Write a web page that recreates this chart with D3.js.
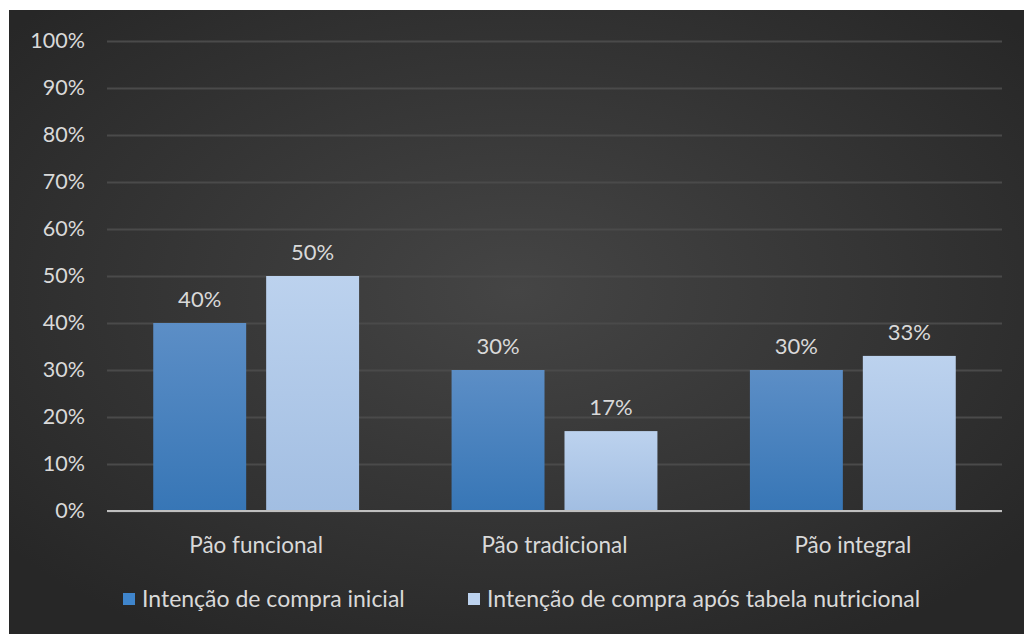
<!DOCTYPE html>
<html>
<head>
<meta charset="utf-8">
<script src="https://cdn.jsdelivr.net/npm/d3@7"></script>
<style>
  html, body { margin: 0; padding: 0; background: #ffffff; }
  svg { display: block; }
  text { font-family: Lato, "Open Sans", sans-serif; }
</style>
</head>
<body>
<svg id="chart" width="1024" height="634"></svg>
<script>
// Purchase intention by bread type
const categories = ["Pão funcional", "Pão tradicional", "Pão integral"];
const seriesNames = ["Intenção de compra inicial", "Intenção de compra após tabela nutricional"];
const initialValues = [40, 30, 30];
const afterLabelValues = [50, 17, 33];
const yTicks = [0, 10, 20, 30, 40, 50, 60, 70, 80, 90, 100];

const W = 1024, H = 634;
const panel = { x: 9, y: 10 };
const plot = { left: 107, right: 1002, top: 41, bottom: 511 };

const svg = d3.select("#chart");
const defs = svg.append("defs");

// Dark radial backdrop
const bg = defs.append("radialGradient").attr("id", "bg")
  .attr("cx", "50%").attr("cy", "45%").attr("r", "65%");
bg.append("stop").attr("offset", "0%").attr("stop-color", "#454545");
bg.append("stop").attr("offset", "100%").attr("stop-color", "#272727");

const g1 = defs.append("linearGradient").attr("id", "s1").attr("x1", 0).attr("y1", 0).attr("x2", 0).attr("y2", 1);
g1.append("stop").attr("offset", "0%").attr("stop-color", "#5c8ec6");
g1.append("stop").attr("offset", "100%").attr("stop-color", "#3776b6");

const g2 = defs.append("linearGradient").attr("id", "s2").attr("x1", 0).attr("y1", 0).attr("x2", 0).attr("y2", 1);
g2.append("stop").attr("offset", "0%").attr("stop-color", "#bcd2ee");
g2.append("stop").attr("offset", "100%").attr("stop-color", "#a2bee2");

svg.append("rect").attr("x", panel.x).attr("y", panel.y)
  .attr("width", W - panel.x).attr("height", H - panel.y)
  .attr("fill", "url(#bg)");

const y = d3.scaleLinear().domain([0, 100]).range([plot.bottom, plot.top]);
const x0 = d3.scaleBand().domain(categories).range([plot.left, plot.right]).paddingInner(0.31).paddingOuter(0.155);
const x1 = d3.scaleBand().domain([0, 1]).range([0, x0.bandwidth()]).paddingInner(0.177);

// Gridlines and percentage labels
const yAxis = d3.axisLeft(y).tickValues(yTicks).tickFormat(d => d + "%")
  .tickSize(-(plot.right - plot.left)).tickPadding(22);
const ya = svg.append("g").attr("transform", `translate(${plot.left},0)`).call(yAxis);
ya.select(".domain").remove();
ya.selectAll(".tick line").attr("stroke", "#4a4a4a").attr("stroke-width", 2);
ya.selectAll(".tick text").attr("fill", "#d9d9d9").attr("font-size", 21.5);

const series = [initialValues, afterLabelValues];
const fills = ["url(#s1)", "url(#s2)"];

const groups = svg.append("g").selectAll("g").data(categories).join("g")
  .attr("transform", d => `translate(${x0(d)},0)`);

groups.each(function(cat, ci) {
  const gg = d3.select(this);
  series.forEach((vals, si) => {
    const v = vals[ci];
    gg.append("rect")
      .attr("x", x1(si)).attr("y", y(v))
      .attr("width", x1.bandwidth()).attr("height", y(0) - y(v))
      .attr("fill", fills[si]);
    gg.append("text")
      .attr("x", x1(si) + x1.bandwidth() / 2).attr("y", y(v) - 16)
      .attr("text-anchor", "middle").attr("fill", "#d9d9d9").attr("font-size", 22)
      .text(v + "%");
  });
});

// Baseline
svg.append("line").attr("x1", plot.left).attr("x2", plot.right)
  .attr("y1", y(0)).attr("y2", y(0)).attr("stroke", "#bfbfbf").attr("stroke-width", 2);

// Category labels
svg.append("g").selectAll("text").data(categories).join("text")
  .attr("x", d => x0(d) + x0.bandwidth() / 2).attr("y", 553)
  .attr("text-anchor", "middle").attr("fill", "#d9d9d9").attr("font-size", 22.5)
  .text(d => d);

// Legend
const legendX = [123, 468];
const lg = svg.append("g").selectAll("g").data(seriesNames).join("g")
  .attr("transform", (d, i) => `translate(${legendX[i]},607)`);
lg.append("rect").attr("x", 0).attr("y", -14).attr("width", 12).attr("height", 12)
  .attr("fill", (d, i) => i === 0 ? "#3f85cc" : "#bcd2ee");
lg.append("text").attr("x", 19).attr("y", 0).attr("fill", "#d9d9d9").attr("font-size", 23)
  .text(d => d);
</script>
</body>
</html>
